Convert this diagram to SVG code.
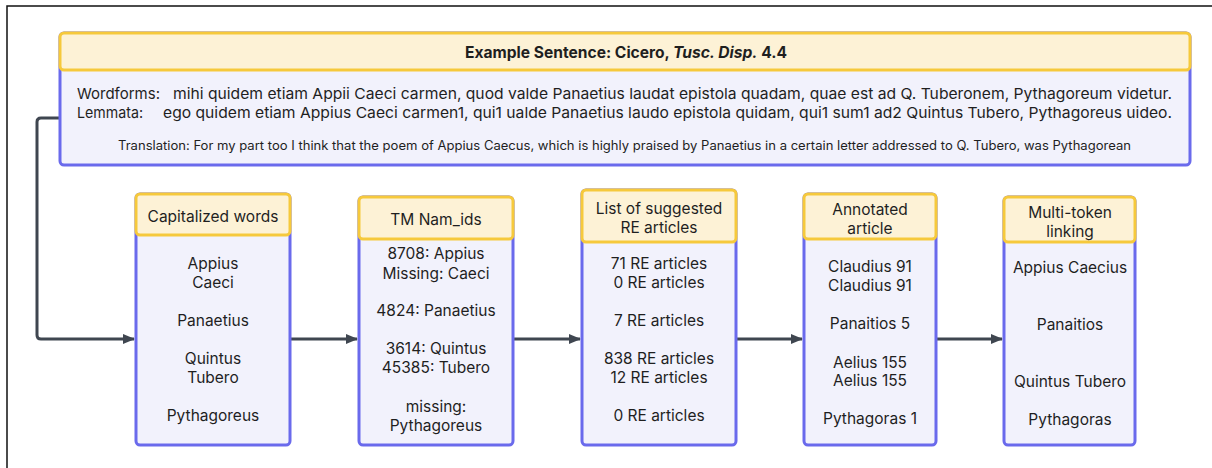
<svg xmlns="http://www.w3.org/2000/svg" width="1212" height="468" viewBox="0 0 1212 468">
<defs>
<style>
.hd{fill:#fdf2d6;stroke:#f6c93c;stroke-width:3}
.bd{fill:#f2f2fc;stroke:#6a6aec;stroke-width:3}
.t{font-family:Inter,"Liberation Sans",sans-serif;font-size:15.5px;fill:#1f1f1f;text-anchor:middle}
.s{font-family:Inter,"Liberation Sans",sans-serif;fill:#1f1f1f}
.c{fill:none;stroke:#3f4650;stroke-width:3}
</style>
<marker id="ah" viewBox="0 0 12 10" refX="11" refY="5" markerWidth="12" markerHeight="10" markerUnits="userSpaceOnUse" orient="auto">
<path d="M0,0 L12,5 L0,10 Z" fill="#3f4650"/>
</marker>
</defs>
<rect width="1212" height="468" fill="#ffffff"/>
<rect x="7" y="6" width="1300" height="600" fill="none" stroke="#111" stroke-width="1.5"/>

<g id="connectors">
<path class="c" d="M60,118 L41,118 Q37,118 37,122 L37,335 Q37,339 41,339 L134,339" marker-end="url(#ah)"/>
<path class="c" d="M290,339 L357,339" marker-end="url(#ah)"/>
<path class="c" d="M513,339 L580,339" marker-end="url(#ah)"/>
<path class="c" d="M736,339 L802,339" marker-end="url(#ah)"/>
<path class="c" d="M936,339 L1002,339" marker-end="url(#ah)"/>
</g>

<g id="example">
<rect class="bd" x="60" y="33" width="1130" height="132" rx="4"/>
<rect class="hd" x="60" y="33" width="1130" height="37" rx="4"/>
<text class="s" x="465" y="57.5" font-size="15.5" font-weight="bold" textLength="322" lengthAdjust="spacingAndGlyphs">Example Sentence: Cicero, <tspan font-style="italic">Tusc. Disp.</tspan> 4.4</text>
<text class="s" x="77" y="99" font-size="15" textLength="83" lengthAdjust="spacingAndGlyphs">Wordforms:</text>
<text class="s" x="173" y="99" font-size="15" textLength="999" lengthAdjust="spacingAndGlyphs">mihi quidem etiam Appii Caeci carmen, quod valde Panaetius laudat epistola quadam, quae est ad Q. Tuberonem, Pythagoreum videtur.</text>
<text class="s" x="77" y="118" font-size="15" textLength="66" lengthAdjust="spacingAndGlyphs">Lemmata:</text>
<text class="s" x="163" y="118" font-size="15" textLength="1009" lengthAdjust="spacingAndGlyphs">ego quidem etiam Appius Caeci carmen1, qui1 ualde Panaetius laudo epistola quidam, qui1 sum1 ad2 Quintus Tubero, Pythagoreus uideo.</text>
<text class="s" x="118" y="150" font-size="12.5" textLength="1013" lengthAdjust="spacingAndGlyphs">Translation: For my part too I think that the poem of Appius Caecus, which is highly praised by Panaetius in a certain letter addressed to Q. Tubero, was Pythagorean</text>
</g>

<g id="capitalized">
<rect class="bd" x="136" y="194" width="154" height="251" rx="4"/>
<rect class="hd" x="136" y="194" width="154" height="41" rx="4"/>
<text class="t" x="213" y="221.5">Capitalized words</text>
<text class="t" x="213" y="269">Appius</text>
<text class="t" x="213" y="288">Caeci</text>
<text class="t" x="213" y="326">Panaetius</text>
<text class="t" x="213" y="364">Quintus</text>
<text class="t" x="213" y="383">Tubero</text>
<text class="t" x="213" y="421">Pythagoreus</text>
</g>

<g id="tm">
<rect class="bd" x="359" y="197" width="154" height="248" rx="4"/>
<rect class="hd" x="359" y="197" width="154" height="42" rx="4"/>
<text class="t" x="436" y="224.5">TM Nam_ids</text>
<text class="t" x="436" y="259">8708: Appius</text>
<text class="t" x="436" y="279">Missing: Caeci</text>
<text class="t" x="436" y="316">4824: Panaetius</text>
<text class="t" x="436" y="354">3614: Quintus</text>
<text class="t" x="436" y="373">45385: Tubero</text>
<text class="t" x="436" y="412">missing:</text>
<text class="t" x="436" y="431">Pythagoreus</text>
</g>

<g id="re">
<rect class="bd" x="582" y="190" width="154" height="255" rx="4"/>
<rect class="hd" x="582" y="190" width="154" height="52" rx="4"/>
<text class="t" x="659" y="213.5">List of suggested</text>
<text class="t" x="659" y="232.5">RE articles</text>
<text class="t" x="659" y="269">71 RE articles</text>
<text class="t" x="659" y="288">0 RE articles</text>
<text class="t" x="659" y="326">7 RE articles</text>
<text class="t" x="659" y="364">838 RE articles</text>
<text class="t" x="659" y="383">12 RE articles</text>
<text class="t" x="659" y="421">0 RE articles</text>
</g>

<g id="annotated">
<rect class="bd" x="804" y="194" width="132" height="251" rx="4"/>
<rect class="hd" x="804" y="194" width="132" height="45" rx="4"/>
<text class="t" x="870" y="214.5">Annotated</text>
<text class="t" x="870" y="233.5">article</text>
<text class="t" x="870" y="272">Claudius 91</text>
<text class="t" x="870" y="291">Claudius 91</text>
<text class="t" x="870" y="329">Panaitios 5</text>
<text class="t" x="870" y="368">Aelius 155</text>
<text class="t" x="870" y="386">Aelius 155</text>
<text class="t" x="870" y="424">Pythagoras 1</text>
</g>

<g id="multitoken">
<rect class="bd" x="1004" y="197" width="131" height="248" rx="4"/>
<rect class="hd" x="1004" y="197" width="131" height="45" rx="4"/>
<text class="t" x="1070" y="217.5">Multi-token</text>
<text class="t" x="1070" y="236.5">linking</text>
<text class="t" x="1070" y="273">Appius Caecius</text>
<text class="t" x="1070" y="330">Panaitios</text>
<text class="t" x="1070" y="387">Quintus Tubero</text>
<text class="t" x="1070" y="425">Pythagoras</text>
</g>
</svg>
